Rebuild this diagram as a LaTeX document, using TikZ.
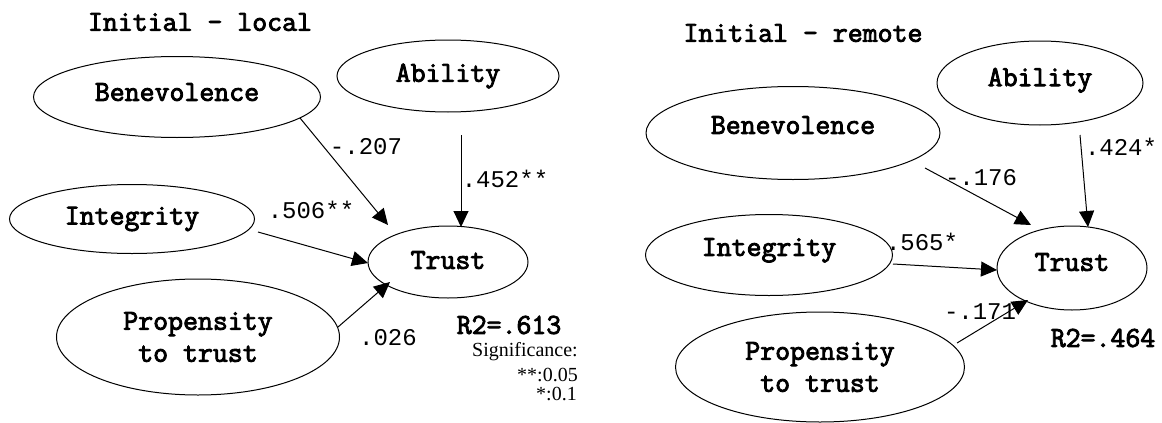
\documentclass[tikz,border=0pt]{standalone}
\usepackage{fontspec}
\setmainfont{Liberation Serif}
\newfontfamily\labfont{Liberation Mono}
\newfontfamily\btt{Latin Modern Mono}[FakeBold=3]
\usetikzlibrary{shapes.geometric,arrows.meta}
\begin{document}
\begin{tikzpicture}[x=1pt,y=-1pt,
 ell/.style={draw,ellipse,line width=1pt,inner sep=0pt,font=\fontsize{29}{32}\selectfont\btt,align=center},
 lbl/.style={font=\fontsize{24}{24}\selectfont\labfont,inner sep=0pt},
 ttl/.style={font=\fontsize{29}{29}\selectfont\btt,inner sep=0pt},
 sig/.style={font=\fontsize{20}{20}\selectfont\rmfamily,inner sep=0pt},
 arr/.style={line width=1pt,-{Triangle[length=16pt,width=15pt]}}]
\useasboundingbox (0,0) rectangle (1162,423);
% ---------- left panel ----------
\node[ttl] (t1) at (200,22) {Initial - local};
\node[ell,minimum width=287pt,minimum height=81pt,text depth=10pt] (ben1) at (177,97) {Benevolence};
\node[ell,minimum width=222pt,minimum height=72pt] (abi1) at (448,76) {Ability};
\node[ell,minimum width=245pt,minimum height=69pt] (int1) at (132,219) {Integrity};
\node[ell,minimum width=160pt,minimum height=72pt,text depth=4pt] (tru1) at (448,262) {Trust};
\node[ell,minimum width=283pt,minimum height=116pt] (pro1) at (198,337) {Propensity\\to trust};
\coordinate (b1s) at (300,118); \coordinate (b1e) at (388,225);
\coordinate (a1s) at (461,135); \coordinate (a1e) at (461,227);
\coordinate (i1s) at (258,232); \coordinate (i1e) at (368,263);
\coordinate (p1s) at (338,327); \coordinate (p1e) at (390,282);
\draw[arr] (b1s) -- (b1e);
\draw[arr] (a1s) -- (a1e);
\draw[arr] (i1s) -- (i1e);
\draw[arr] (p1s) -- (p1e);
\node[lbl] (l1) at (366,147) {-.207};
\node[lbl] (l2) at (505,179) {.452**};
\node[lbl] (l3) at (311,210) {.506**};
\node[lbl] (l4) at (388,338) {.026};
\node[ttl] (r1) at (509,325) {R2=.613};
\node[sig] (s1) at (525,352) {Significance:};
\node[sig,anchor=east] (s2) at (578,375) {**:0.05};
\node[sig,anchor=east] (s3) at (577,394) {*:0.1};
% ---------- right panel ----------
\node[ttl] (t2) at (803,33) {Initial - remote};
\node[ell,minimum width=206pt,minimum height=84pt,text depth=12pt] (abi2) at (1040,83) {Ability};
\node[ell,minimum width=294pt,minimum height=93pt,text depth=16pt] (ben2) at (793,133) {Benevolence};
\node[ell,minimum width=247pt,minimum height=81pt,text depth=16pt] (int2) at (769,255) {Integrity};
\node[ell,minimum width=150pt,minimum height=84pt,text depth=12pt] (tru2) at (1072,268) {Trust};
\node[ell,minimum width=289pt,minimum height=110pt] (pro2) at (820,367) {Propensity\\to trust};
\coordinate (b2s) at (925,168); \coordinate (b2e) at (1031,225);
\coordinate (a2s) at (1080,135); \coordinate (a2e) at (1088,227);
\coordinate (i2s) at (893,264); \coordinate (i2e) at (997,270);
\coordinate (p2s) at (957,343); \coordinate (p2e) at (1028,300);
\draw[arr] (b2s) -- (b2e);
\draw[arr] (a2s) -- (a2e);
\draw[arr] (i2s) -- (i2e);
\draw[arr] (p2s) -- (p2e);
\node[lbl] (l5) at (981,178) {-.176};
\node[lbl] (l6) at (1121,147) {.424*};
\node[lbl] (l7) at (922,242) {.565*};
\node[lbl] (l8) at (980,312) {-.171};
\node[ttl] (r2) at (1103,338) {R2=.464};
\end{tikzpicture}
\end{document}
